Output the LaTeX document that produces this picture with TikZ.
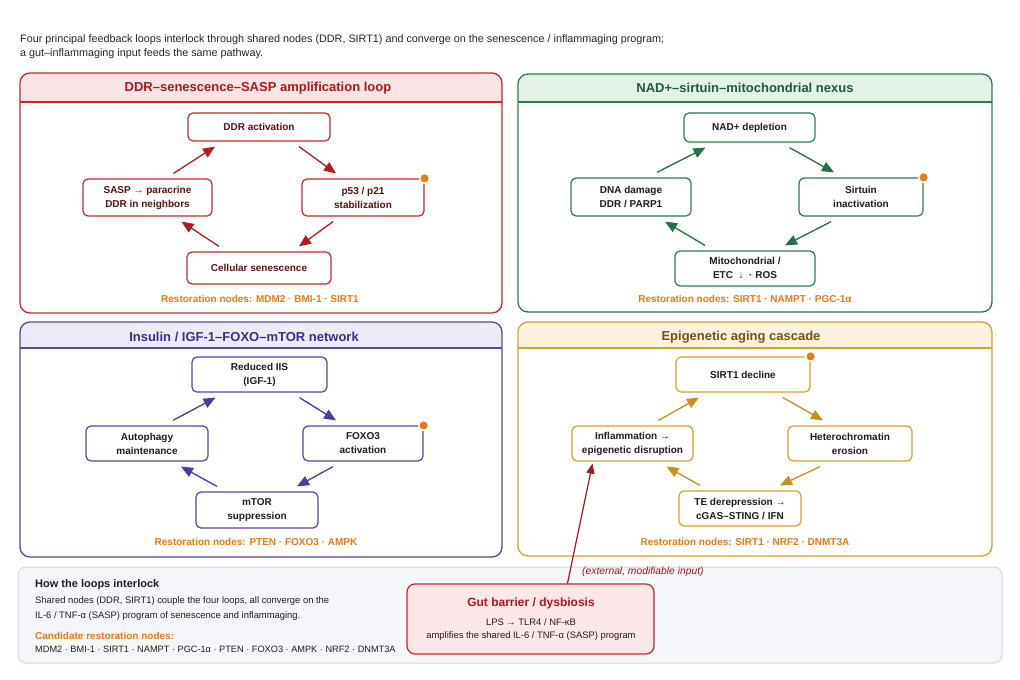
\documentclass[tikz,border=0pt]{standalone}
\usepackage{fontspec}
\setmainfont{Liberation Sans}
\usetikzlibrary{arrows.meta,calc}
\definecolor{redB}{HTML}{C4282E}
\definecolor{redT}{HTML}{B3161C}
\definecolor{redF}{HTML}{FBE4E5}
\definecolor{redN}{HTML}{5A1212}
\definecolor{redA}{HTML}{B01C22}
\definecolor{grnB}{HTML}{2E7A4E}
\definecolor{grnT}{HTML}{1E5C38}
\definecolor{grnF}{HTML}{E4F1E8}
\definecolor{grnA}{HTML}{237045}
\definecolor{purB}{HTML}{5246A8}
\definecolor{purT}{HTML}{3A2D8C}
\definecolor{purF}{HTML}{ECEAF7}
\definecolor{purA}{HTML}{4A3DA0}
\definecolor{golB}{HTML}{D8A02C}
\definecolor{golT}{HTML}{7A5212}
\definecolor{golF}{HTML}{FDF3DC}
\definecolor{golA}{HTML}{C8901E}
\definecolor{dotO}{HTML}{E57E10}
\definecolor{restO}{HTML}{EC7A12}
\definecolor{txtD}{HTML}{1E1E1E}
\definecolor{botF}{HTML}{F4F6FA}
\definecolor{botB}{HTML}{D4D9E6}
\definecolor{gutF}{HTML}{FCE6E7}
\definecolor{gutA}{HTML}{A8151B}
\tikzset{
  nbox/.style={draw, rounded corners=5pt, fill=white, line width=1.2pt, align=center,
    font=\bfseries\fontsize{10}{14}\selectfont, inner sep=0pt, text=txtD},
  ptitle/.style={font=\bfseries\fontsize{13}{15}\selectfont, inner sep=0pt},
  rest/.style={font=\bfseries\fontsize{10}{12}\selectfont, text=restO, inner sep=0pt},
  arr/.style={line width=1.3pt, -{Triangle[length=12pt,width=10pt]}},
  odot/.style={fill=dotO, draw=white, line width=1.5pt},
  plain/.style={inner sep=0pt, anchor=base west, text=txtD},
  small/.style={font=\fontsize{9.4}{11}\selectfont}
}
\newcommand\mypanel[7]{%
  \begin{scope}
    \clip[rounded corners=10pt] (#1,#2) rectangle (#3,#4);
    \fill[#7] (#1,#2) rectangle (#3,#5);
  \end{scope}
  \draw[#6, line width=1.1pt] (#1,#5) -- (#3,#5);
  \draw[#6, line width=1.3pt, rounded corners=10pt] (#1,#2) rectangle (#3,#4);
}
\newcommand\looparrows[2]{%
  \draw[arr,#2] ([xshift=26pt,yshift=5pt]#1l.north) -- ([xshift=-44pt,yshift=-5pt]#1t.south);
  \draw[arr,#2] ([xshift=40pt,yshift=-5pt]#1t.south) -- ([xshift=-27pt,yshift=5pt]#1r.north);
  \draw[arr,#2] ([xshift=-30pt,yshift=-5pt]#1r.south) -- ([xshift=40pt,yshift=5pt]#1b.north);
  \draw[arr,#2] ([xshift=-40pt,yshift=5pt]#1b.north) -- ([xshift=34pt,yshift=-5pt]#1l.south);
}
\begin{document}
\begin{tikzpicture}[x=1pt,y=-1pt]
\useasboundingbox (0,0) rectangle (1020,680);
\fill[white] (0,0) rectangle (1020,680);

% intro
\node[plain, font=\fontsize{10.8}{12}\selectfont, text=black!85] (intro1) at (20,42) {Four principal feedback loops interlock through shared nodes (DDR, SIRT1) and converge on the senescence / inflammaging program;};
\node[plain, font=\fontsize{10.8}{12}\selectfont, text=black!85] (intro2) at (20,56) {a gut–inflammaging input feeds the same pathway.};

% panels
\mypanel{20}{73}{502}{313}{102}{redB}{redF}
\mypanel{518}{74}{992}{312}{102}{grnB}{grnF}
\mypanel{20}{322}{502}{557}{348}{purB}{purF}
\mypanel{518}{322}{992}{556}{348}{golB}{golF}

\node[ptitle, text=redT] (t1) at (258,88) {DDR–senescence–SASP amplification loop};
\node[ptitle, text=grnT] (t2) at (745,88) {NAD+–sirtuin–mitochondrial nexus};
\node[ptitle, text=purT] (t3) at (244,337) {Insulin / IGF-1–FOXO–mTOR network};
\node[ptitle, text=golT] (t4) at (741,337) {Epigenetic aging cascade};

% panel 1
\node[nbox, draw=redB, text=redN, minimum width=142pt, minimum height=28pt] (p1t) at (259,127) {DDR activation};
\node[nbox, draw=redB, text=redN, minimum width=129pt, minimum height=37pt] (p1l) at (147.5,197.5) {SASP → paracrine\\DDR in neighbors};
\node[nbox, draw=redB, text=redN, minimum width=122pt, minimum height=37pt] (p1r) at (363,197.5) {p53 / p21\\stabilization};
\node[nbox, draw=redB, text=redN, minimum width=144pt, minimum height=32pt] (p1b) at (259,268) {Cellular senescence};
\node[rest] (r1) at (260,299) {Restoration nodes: MDM2 · BMI-1 · SIRT1};
\looparrows{p1}{redA}
\fill[odot] (p1r.north east) circle (5pt);

% panel 2
\node[nbox, draw=grnB, minimum width=131pt, minimum height=29pt] (p2t) at (749.5,127.5) {NAD+ depletion};
\node[nbox, draw=grnB, minimum width=120pt, minimum height=38pt] (p2l) at (631,197) {DNA damage\\DDR / PARP1};
\node[nbox, draw=grnB, minimum width=124pt, minimum height=38pt] (p2r) at (861,197) {Sirtuin\\inactivation};
\node[nbox, draw=grnB, minimum width=140pt, minimum height=35pt] (p2b) at (745,268.5) {Mitochondrial /\\ETC \ ↓ \ · ROS};
\node[rest] (r2) at (745,299) {Restoration nodes: SIRT1 · NAMPT · PGC-1α};
\looparrows{p2}{grnA}
\fill[odot] (p2r.north east) circle (5pt);

% panel 3
\node[nbox, draw=purB, minimum width=135pt, minimum height=35pt] (p3t) at (259.5,374.5) {Reduced IIS\\(IGF-1)};
\node[nbox, draw=purB, minimum width=122pt, minimum height=35pt] (p3l) at (147,443.5) {Autophagy\\maintenance};
\node[nbox, draw=purB, minimum width=120pt, minimum height=35pt] (p3r) at (363,443.5) {FOXO3\\activation};
\node[nbox, draw=purB, minimum width=122pt, minimum height=36pt] (p3b) at (257,510) {mTOR\\suppression};
\node[rest] (r3) at (256,542) {Restoration nodes: PTEN · FOXO3 · AMPK};
\looparrows{p3}{purA}
\fill[odot] (p3r.north east) circle (5pt);

% panel 4
\node[nbox, draw=golB, minimum width=134pt, minimum height=35pt] (p4t) at (743,374.5) {SIRT1 decline};
\node[nbox, draw=golB, minimum width=121pt, minimum height=35pt] (p4l) at (632.5,443.5) {Inflammation →\\epigenetic disruption};
\node[nbox, draw=golB, minimum width=124pt, minimum height=35pt] (p4r) at (850,443.5) {Heterochromatin\\erosion};
\node[nbox, draw=golB, minimum width=122pt, minimum height=35pt] (p4b) at (740,508.5) {TE derepression →\\cGAS–STING / IFN};
\node[rest] (r4) at (745,542) {Restoration nodes: SIRT1 · NRF2 · DNMT3A};
\looparrows{p4}{golA}
\fill[odot] (p4t.north east) circle (5pt);

% bottom box
\draw[fill=botF, draw=botB, line width=1pt, rounded corners=8pt] (18,567) rectangle (1002,663);
\node[plain, font=\bfseries\fontsize{11}{13}\selectfont] (howt) at (35,587) {How the loops interlock};
\node[plain, small] (how1) at (35,603) {Shared nodes (DDR, SIRT1) couple the four loops, all converge on the};
\node[plain, small] (how2) at (35,618) {IL-6 / TNF-α (SASP) program of senescence and inflammaging.};
\node[plain, font=\bfseries\fontsize{10}{12}\selectfont, text=restO] (cand) at (35,639) {Candidate restoration nodes:};
\node[plain, font=\fontsize{9.2}{11}\selectfont] (candl) at (35,652) {MDM2 · BMI-1 · SIRT1 · NAMPT · PGC-1α · PTEN · FOXO3 · AMPK · NRF2 · DNMT3A};

% gut box
\node[draw=redB, fill=gutF, line width=1.2pt, rounded corners=8pt, minimum width=247pt, minimum height=70pt, inner sep=0pt] (gut) at (530.5,619) {};
\node[font=\bfseries\fontsize{12}{14}\selectfont, text=redT, inner sep=0pt] (gutt) at (531,603) {Gut barrier / dysbiosis};
\node[small, text=txtD, inner sep=0pt] (gut1) at (531,622) {LPS → TLR4 / NF-κB};
\node[small, text=txtD, inner sep=0pt] (gut2) at (531,636) {amplifies the shared IL-6 / TNF-α (SASP) program};
\node[font=\itshape\fontsize{10.3}{12}\selectfont, text=gutA, inner sep=0pt, anchor=west] (extl) at (582,572) {(external, modifiable input)};
\coordinate (gutout) at ([xshift=37pt]gut.north);
\draw[gutA, line width=1.2pt, -{Triangle[length=10pt,width=8pt]}] (gutout) -- ([xshift=-40pt,yshift=-2pt]p4l.south);
\end{tikzpicture}
\end{document}
